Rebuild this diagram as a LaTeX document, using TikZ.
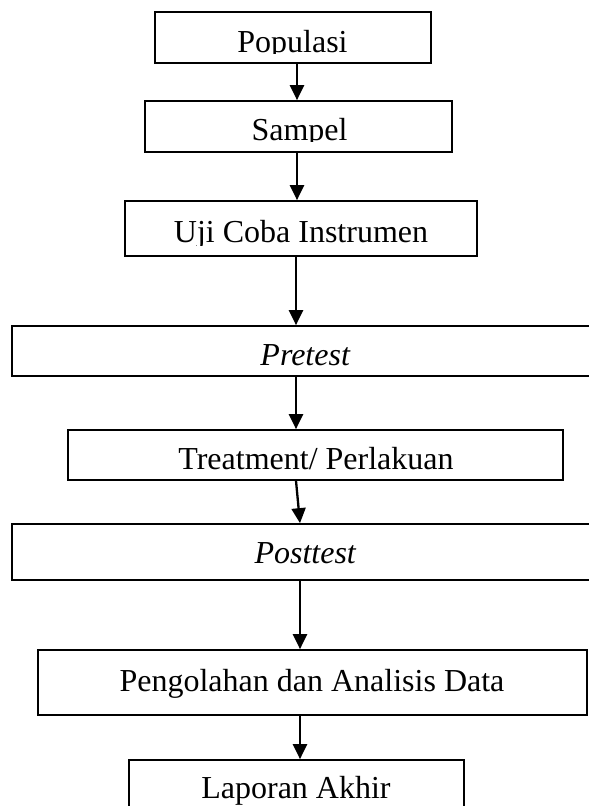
\documentclass[tikz,border=0pt]{standalone}
\usepackage{fontspec}
\setmainfont{Liberation Serif}
\usetikzlibrary{arrows.meta}

\begin{document}
\begin{tikzpicture}[x=1pt,y=-1pt,
  box/.style={draw, fill=white, line width=1.7pt, inner sep=0pt},
  lbl/.style={anchor=base, inner sep=0pt, font=\fontsize{32}{38}\selectfont},
  arr/.style={line width=2.3pt, -{Triangle[width=14pt,length=15pt]}}]
  \useasboundingbox (0,0) rectangle (589,806);
  \clip (0,0) rectangle (589,806);
  % kotak-kotak alur
  \node[box, minimum width=276, minimum height=51] (populasi) at (293,37.5) {};
  \node[box, minimum width=307, minimum height=51] (sampel) at (298.5,126.5) {};
  \node[box, minimum width=352, minimum height=55] (uji) at (301,228.5) {};
  \node[box, minimum width=598, minimum height=50] (pretest) at (311,351) {};
  \node[box, minimum width=495, minimum height=50] (treatment) at (315.5,455) {};
  \node[box, minimum width=598, minimum height=56] (posttest) at (311,552) {};
  \node[box, minimum width=549, minimum height=65] (pengolahan) at (312.5,682.5) {};
  \node[box, minimum width=335, minimum height=70] (laporan) at (296.5,795) {};
  % teks (kaki huruf terpotong seperti aslinya)
  \begin{scope}
    \clip (155,12) rectangle (431,53.5);
    \node[lbl] (tpopulasi) at (292.5,52) {Populasi};
  \end{scope}
  \begin{scope}
    \clip (145,101) rectangle (452,141.7);
    \node[lbl] (tsampel) at (299.5,140) {Sampel};
  \end{scope}
  \begin{scope}
    \clip (125,201) rectangle (477,245);
    \node[lbl] (tuji) at (301,242) {Uji Coba Instrumen};
  \end{scope}
  \node[lbl] (tpretest) at (305.5,365) {\textit{Pretest}};
  \node[lbl] (ttreatment) at (316,469) {Treatment/ Perlakuan};
  \node[lbl] (tposttest) at (305.5,563) {\textit{Posttest}};
  \node[lbl] (tpengolahan) at (312,691) {Pengolahan dan Analisis Data};
  \node[lbl] (tlaporan) at (296,798) {Laporan Akhir};
  % panah
  \draw[arr] ([xshift=4]populasi.south) -- ([xshift=-1.5]sampel.north);
  \draw[arr] ([xshift=-1.5]sampel.south) -- ([xshift=-4]uji.north);
  \draw[arr] ([xshift=-5]uji.south) -- ([xshift=-15]pretest.north);
  \draw[arr] ([xshift=-15]pretest.south) -- ([xshift=-19.5]treatment.north);
  \draw[arr] ([xshift=-19.5]treatment.south) -- ([xshift=-11]posttest.north);
  \draw[arr] ([xshift=-11]posttest.south) -- ([xshift=-12.5]pengolahan.north);
  \draw[arr] ([xshift=-12.5]pengolahan.south) -- ([xshift=3.5]laporan.north);
\end{tikzpicture}
\end{document}
